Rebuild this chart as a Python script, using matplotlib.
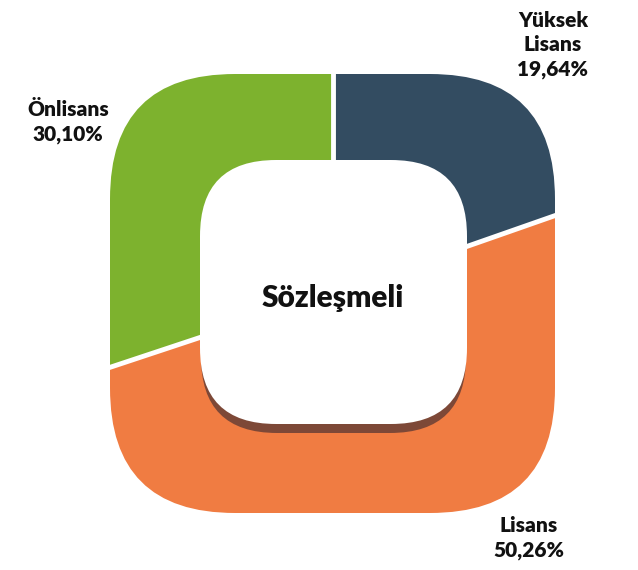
import matplotlib

matplotlib.use("Agg")
import matplotlib.pyplot as plt
from matplotlib.patches import FancyBboxPatch, Wedge
import numpy as np

categories = ["Yüksek\nLisans", "Lisans", "Önlisans"]
shares = [19.64, 50.26, 30.10]
value_labels = ["19,64%", "50,26%", "30,10%"]
colors = ["#334C61", "#F07C42", "#7DB22E"]
center_title = "Sözleşmeli"

W, H = 638, 570
fig = plt.figure(figsize=(W / 100, H / 100), dpi=100)
ax = fig.add_axes([0, 0, 1, 1])
ax.set_xlim(0, W)
ax.set_ylim(0, H)
ax.set_aspect("equal")
ax.axis("off")

# outer rounded square (pixel coords, y flipped)
ox0, ox1 = 110, 555
oy0, oy1 = H - 513, H - 74
cx, cy = (ox0 + ox1) / 2, (oy0 + oy1) / 2

outer = FancyBboxPatch((ox0, oy0), ox1 - ox0, oy1 - oy0,
                       boxstyle="round,pad=0,rounding_size=125",
                       facecolor="none", edgecolor="none")
ax.add_patch(outer)

start = 0.0
bounds = []
for share, color in zip(shares, colors):
    end = start + share
    t1 = 90 - end * 3.6
    t2 = 90 - start * 3.6
    w = Wedge((cx, cy), 500, t1, t2, facecolor=color, edgecolor="none")
    ax.add_patch(w)
    w.set_clip_path(outer)
    bounds.append(start)
    start = end

# white separators between slices
for b in bounds:
    ang = np.deg2rad(90 - b * 3.6)
    ln, = ax.plot([cx, cx + 500 * np.cos(ang)], [cy, cy + 500 * np.sin(ang)],
                  color="white", lw=3.5, solid_capstyle="butt")
    ln.set_clip_path(outer)

# inner hole with shadow
ix0, ix1 = 200, 467
iy0, iy1 = H - 424, H - 160
shadow = FancyBboxPatch((ix0 + 1, iy0 - 9), ix1 - ix0 - 2, iy1 - iy0,
                        boxstyle="round,pad=0,rounding_size=76",
                        facecolor="#7D4837", edgecolor="none")
ax.add_patch(shadow)
inner = FancyBboxPatch((ix0, iy0), ix1 - ix0, iy1 - iy0,
                       boxstyle="round,pad=0,rounding_size=76",
                       facecolor="white", edgecolor="none")
ax.add_patch(inner)

font = dict(family="Lato", fontweight="heavy", color="#111111",
            ha="center", va="center", linespacing=1.3)
ax.text(cx, H - 298, center_title, fontsize=21.5, **font)

label_pos = [(553, H - 45), (529, H - 538), (68, H - 122)]
for (x, y), cat, val in zip(label_pos, categories, value_labels):
    ax.text(x, y, f"{cat}\n{val}", fontsize=15, **font)

fig.savefig("out.png", dpi=100)
